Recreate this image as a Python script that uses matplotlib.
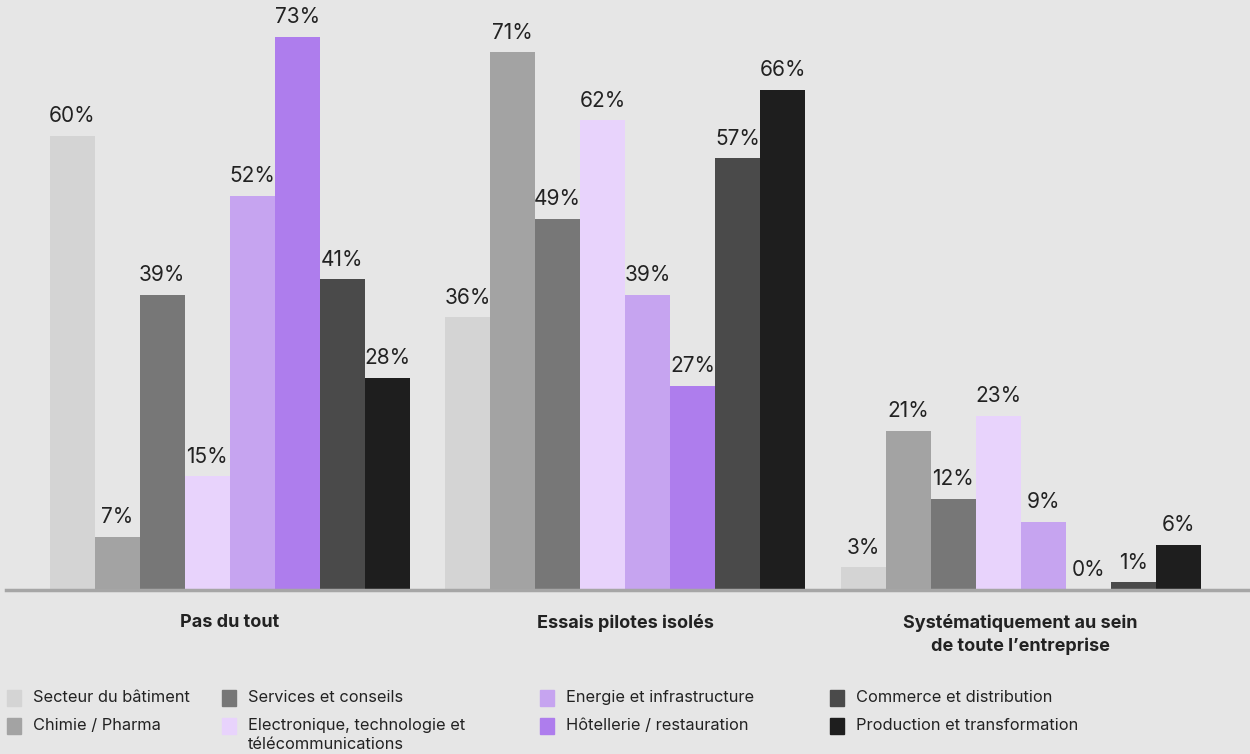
import matplotlib.pyplot as plt
import matplotlib.patches as mpatches
import numpy as np

plt.rcParams['font.family'] = ['Inter', 'DejaVu Sans']

groupes = ["Pas du tout", "Essais pilotes isolés",
           "Systématiquement au sein\nde toute l’entreprise"]
secteurs = ["Secteur du bâtiment", "Chimie / Pharma", "Services et conseils",
            "Electronique, technologie et\ntélécommunications",
            "Energie et infrastructure", "Hôtellerie / restauration",
            "Commerce et distribution", "Production et transformation"]
valeurs = [
    [60, 36, 3],   # Secteur du bâtiment
    [7, 71, 21],   # Chimie / Pharma
    [39, 49, 12],  # Services et conseils
    [15, 62, 23],  # Electronique
    [52, 39, 9],   # Energie
    [73, 27, 0],   # Hôtellerie
    [41, 57, 1],   # Commerce
    [28, 66, 6],   # Production
]
couleurs = ["#d4d4d4", "#a3a3a3", "#777777", "#e8d3fc",
            "#c6a4f0", "#ae7ded", "#4a4a4a", "#1e1e1e"]

fond = "#e6e6e6"
fig = plt.figure(figsize=(12.5, 7.54), dpi=100, facecolor=fond)
ax = fig.add_axes([0.0048, 0.2175, 0.9952, 0.7825], facecolor=fond)

x = np.arange(len(groupes))
largeur = 0.1138
for i, (serie, c) in enumerate(zip(valeurs, couleurs)):
    pos = x + (i - 3.5) * largeur
    ax.bar(pos, serie, width=largeur, color=c, zorder=2)
    for px, v in zip(pos, serie):
        ax.annotate(f"{v}%", (px, v), xytext=(0, 7), textcoords="offset points",
                    ha="center", va="bottom", fontsize=15, color="#222222")

ax.set_xlim(-0.566, 2.58)
ax.set_ylim(0, 77.9)
for s in ["top", "right", "left"]:
    ax.spines[s].set_visible(False)
ax.spines["bottom"].set_color("#a6a6a6")
ax.spines["bottom"].set_linewidth(2.5)
ax.set_yticks([])
ax.set_xticks(x)
ax.set_xticklabels(groupes, fontsize=13, fontweight="bold", color="#222222",
                   linespacing=1.45, va="top")
ax.tick_params(axis="x", length=0, pad=17)

# légende dessinée à la main
cols_x = [7, 222, 540, 830]
rows_y = [698, 726]
W, H = 1250, 754
for k, (nom, c) in enumerate(zip(secteurs, couleurs)):
    col, row = k // 2, k % 2
    xs, ys = cols_x[col], rows_y[row]
    fig.patches.append(mpatches.Rectangle((xs / W, 1 - (ys + 8) / H), 14 / W, 16 / H,
                                          transform=fig.transFigure, color=c))
    fig.text((xs + 26) / W, 1 - (ys - 8) / H, nom, fontsize=11.8, color="#222222",
             va="top", ha="left", linespacing=1.35)

fig.savefig("out.png", dpi=100, facecolor=fond)
